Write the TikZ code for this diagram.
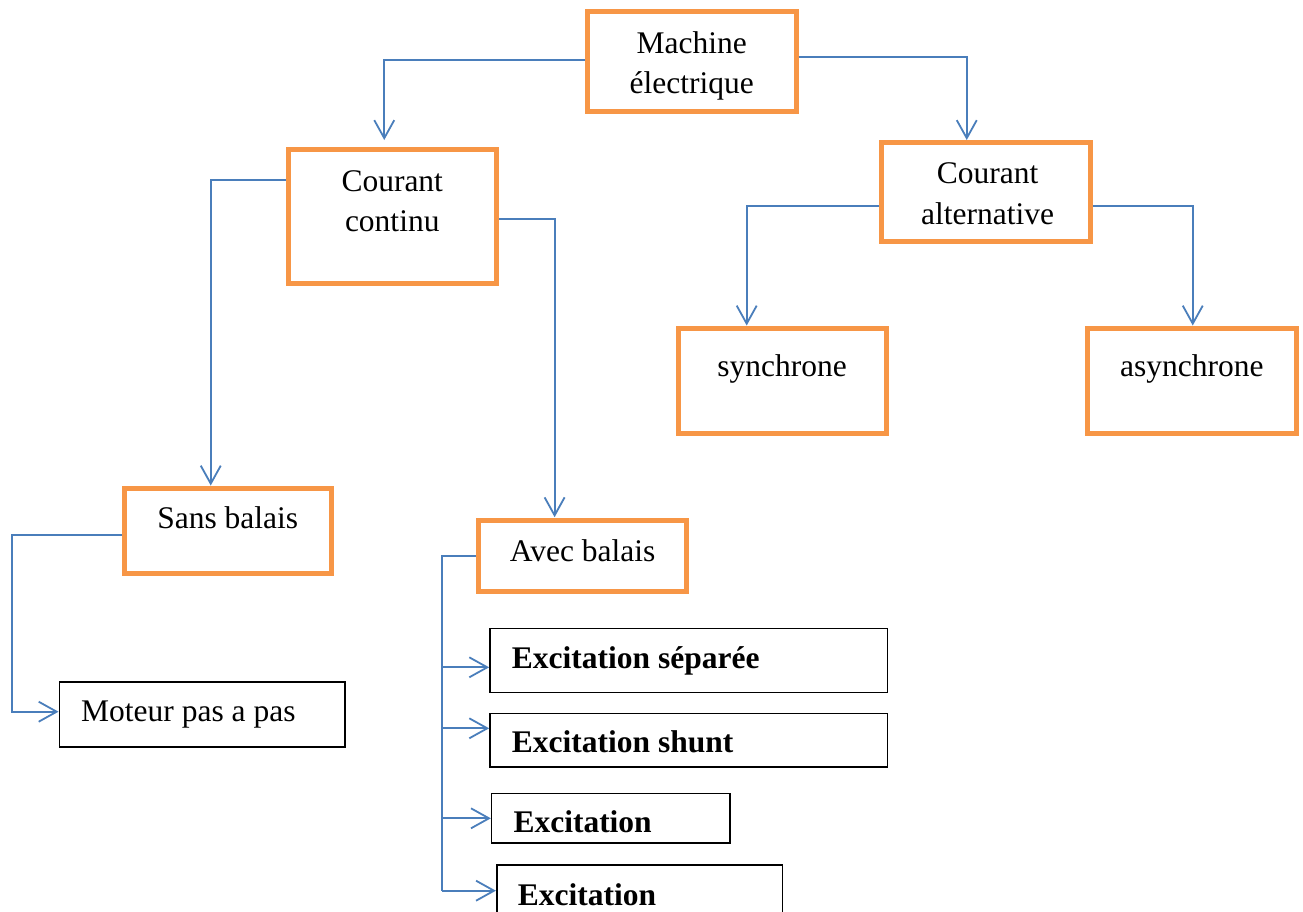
\documentclass[tikz,border=0pt]{standalone}
\usepackage{fontspec}
\setmainfont{Liberation Serif}
\usetikzlibrary{arrows.meta}
\definecolor{boxorange}{HTML}{F79646}
\definecolor{linkblue}{HTML}{4A7EBB}
\tikzset{
  obox/.style={draw=boxorange, line width=5pt, rectangle, inner sep=0pt, fill=white},
  kbox/.style={draw=black, line width=1.6pt, rectangle, inner sep=0pt, fill=white},
  conn/.style={draw=linkblue, line width=1.8pt},
  arr/.style={conn, -{Straight Barb[length=18pt,width=20pt,line width=1.8pt]}},
  lbl/.style={inner sep=0pt, anchor=base, font=\fontsize{31.5pt}{38pt}\selectfont},
  llbl/.style={inner sep=0pt, anchor=base west, font=\fontsize{31.5pt}{38pt}\selectfont},
  blbl/.style={inner sep=0pt, anchor=base west, font=\fontsize{31.5pt}{38pt}\selectfont\bfseries}
}
\begin{document}
\begin{tikzpicture}[x=1pt,y=-1pt]
\clip (0,0) rectangle (1303,911);
\fill[white] (0,0) rectangle (1303,911);

% orange boxes
\node[obox, minimum width=208.5pt, minimum height=100pt] (me) at (691.75,61.5) {};
\node[obox, minimum width=208.5pt, minimum height=134pt] (cc) at (392.25,216.5) {};
\node[obox, minimum width=208.5pt, minimum height=99pt] (ca) at (985.75,192) {};
\node[obox, minimum width=208pt, minimum height=105.5pt] (sy) at (782,380.75) {};
\node[obox, minimum width=208.5pt, minimum height=105.5pt] (as) at (1191.75,380.75) {};
\node[obox, minimum width=207.5pt, minimum height=85pt] (sb) at (227.75,530.5) {};
\node[obox, minimum width=208.3pt, minimum height=71.1pt] (ab) at (582.6,556.25) {};

% black boxes
\node[kbox, minimum width=285.7pt, minimum height=65pt] (mp) at (202.2,714.2) {};
\node[kbox, minimum width=397.7pt, minimum height=64pt] (es) at (688.8,660.3) {};
\node[kbox, minimum width=397.7pt, minimum height=53.7pt] (esh) at (688.8,740.2) {};
\node[kbox, minimum width=238.3pt, minimum height=49.4pt] (e3) at (610.8,818) {};
\node[kbox, minimum width=285.6pt, minimum height=70pt] (e4) at (639.5,900) {};

% labels
\node[lbl] (tme1) at (691.75,53) {Machine};
\node[lbl] (tme2) at (691.75,93) {électrique};
\node[lbl] (tcc1) at (392.25,191) {Courant};
\node[lbl] (tcc2) at (392.25,231.7) {continu};
\node[lbl] (tca1) at (987.5,183) {Courant};
\node[lbl] (tca2) at (987.5,224) {alternative};
\node[lbl] (tsy) at (782,376) {synchrone};
\node[lbl] (tas) at (1191.75,376) {asynchrone};
\node[lbl] (tsb) at (227.75,528) {Sans balais};
\node[lbl] (tab) at (582.6,561.7) {Avec balais};
\node[llbl] (tmp) at (81,721.7) {Moteur pas a pas};
\node[blbl] (tes) at (511.7,668.3) {Excitation séparée};
\node[blbl] (tesh) at (511.7,752.7) {Excitation shunt};
\node[blbl] (te3) at (513.3,832.7) {Excitation};
\node[blbl] (te4) at (517.7,905) {Excitation};

% connectors of the upper tree
\draw[arr] ([yshift=1.5pt]me.west) -| ([xshift=-8pt,yshift=7pt]cc.north);
\draw[arr] ([yshift=4.5pt]me.east) -| ([xshift=-19pt]ca.north);
\draw[arr] ([yshift=36.5pt]cc.west) -| ([xshift=-17pt]sb.north);
\draw[arr] ([yshift=-2.5pt]cc.east) -| ([xshift=-28pt,yshift=1pt]ab.north);
\draw[arr] ([yshift=-14pt]ca.west) -| ([xshift=-35.3pt]sy.north);
\draw[arr] ([yshift=-14pt]ca.east) -| ([xshift=1pt]as.north);

% brushless branch
\coordinate (sbturn) at (12,711.7);
\draw[arr] ([yshift=-4.5pt]sb.west) -| (sbturn) -- (sbturn -| mp.west);

% brushed branch: vertical bus with four taps
\coordinate (bus1) at (441.7,667.3);
\coordinate (bus2) at (441.7,728.3);
\coordinate (bus3) at (441.7,818.3);
\coordinate (bus4) at (441.7,890.7);
\draw[conn] ([yshift=0.25pt]ab.west) -| (bus4);
\draw[arr] (bus1) -- (bus1 -| es.west);
\draw[arr] (bus2) -- (bus2 -| esh.west);
\draw[arr] (bus3) -- (bus3 -| e3.west);
\draw[arr] (bus4) -- (bus4 -| e4.west);
\end{tikzpicture}
\end{document}
